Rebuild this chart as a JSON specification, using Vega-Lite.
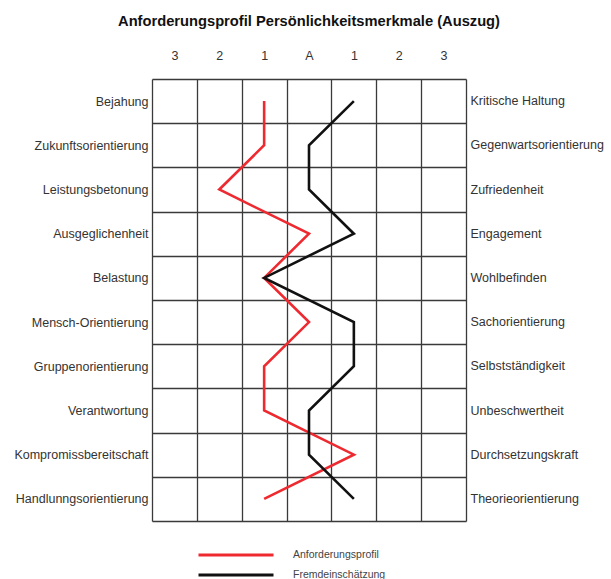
{
  "$schema": "https://vega.github.io/schema/vega-lite/v6.json",
  "width": 314,
  "height": 442,
  "autosize": "none",
  "padding": {"left": 152, "top": 79, "right": 145, "bottom": 58},
  "background": "white",
  "title": {
    "text": "Anforderungsprofil Persönlichkeitsmerkmale (Auszug)",
    "anchor": "middle",
    "font": "Liberation Sans",
    "fontSize": 14.7,
    "fontWeight": "bold",
    "color": "#111111",
    "offset": 20
  },
  "config": {
    "view": {"stroke": null},
    "font": "Liberation Sans",
    "axis": {"labelFont": "Liberation Sans", "labelFontSize": 12.5, "labelColor": "#333333", "title": null}
  },
  "data": {
    "values": [
      {"nr": 1, "left": "Bejahung", "right": "Kritische Haltung", "series": "Anforderungsprofil", "value": -1},
      {"nr": 1, "left": "Bejahung", "right": "Kritische Haltung", "series": "Fremdeinschätzung", "value": 1},
      {"nr": 2, "left": "Zukunftsorientierung", "right": "Gegenwartsorientierung", "series": "Anforderungsprofil", "value": -1},
      {"nr": 2, "left": "Zukunftsorientierung", "right": "Gegenwartsorientierung", "series": "Fremdeinschätzung", "value": 0},
      {"nr": 3, "left": "Leistungsbetonung", "right": "Zufriedenheit", "series": "Anforderungsprofil", "value": -2},
      {"nr": 3, "left": "Leistungsbetonung", "right": "Zufriedenheit", "series": "Fremdeinschätzung", "value": 0},
      {"nr": 4, "left": "Ausgeglichenheit", "right": "Engagement", "series": "Anforderungsprofil", "value": 0},
      {"nr": 4, "left": "Ausgeglichenheit", "right": "Engagement", "series": "Fremdeinschätzung", "value": 1},
      {"nr": 5, "left": "Belastung", "right": "Wohlbefinden", "series": "Anforderungsprofil", "value": -1},
      {"nr": 5, "left": "Belastung", "right": "Wohlbefinden", "series": "Fremdeinschätzung", "value": -1},
      {"nr": 6, "left": "Mensch-Orientierung", "right": "Sachorientierung", "series": "Anforderungsprofil", "value": 0},
      {"nr": 6, "left": "Mensch-Orientierung", "right": "Sachorientierung", "series": "Fremdeinschätzung", "value": 1},
      {"nr": 7, "left": "Gruppenorientierung", "right": "Selbstständigkeit", "series": "Anforderungsprofil", "value": -1},
      {"nr": 7, "left": "Gruppenorientierung", "right": "Selbstständigkeit", "series": "Fremdeinschätzung", "value": 1},
      {"nr": 8, "left": "Verantwortung", "right": "Unbeschwertheit", "series": "Anforderungsprofil", "value": -1},
      {"nr": 8, "left": "Verantwortung", "right": "Unbeschwertheit", "series": "Fremdeinschätzung", "value": 0},
      {"nr": 9, "left": "Kompromissbereitschaft", "right": "Durchsetzungskraft", "series": "Anforderungsprofil", "value": 1},
      {"nr": 9, "left": "Kompromissbereitschaft", "right": "Durchsetzungskraft", "series": "Fremdeinschätzung", "value": 0},
      {"nr": 10, "left": "Handlunngsorientierung", "right": "Theorieorientierung", "series": "Anforderungsprofil", "value": -1},
      {"nr": 10, "left": "Handlunngsorientierung", "right": "Theorieorientierung", "series": "Fremdeinschätzung", "value": 1}
    ]
  },
  "layer": [
    {
      "mark": {"type": "line", "strokeWidth": 2.6, "strokeJoin": "miter"},
      "encoding": {
        "x": {
          "field": "value",
          "type": "quantitative",
          "scale": {"domain": [-3.5, 3.5], "nice": false, "zero": false},
          "axis": {
            "orient": "top",
            "values": [-3, -2, -1, 0, 1, 2, 3],
            "labelExpr": "datum.value == 0 ? 'A' : format(abs(datum.value), 'd')",
            "grid": false,
            "ticks": false,
            "domain": false,
            "labelPadding": 17,
            "labelFontSize": 12.5
          }
        },
        "y": {
          "field": "left",
          "type": "nominal",
          "sort": {"field": "nr", "op": "min"},
          "scale": {"type": "band", "paddingInner": 0, "paddingOuter": 0},
          "axis": {
            "orient": "left",
            "grid": true,
            "tickBand": "extent",
            "gridColor": "#3a3a3a",
            "gridWidth": 1.3,
            "gridOpacity": 1,
            "ticks": false,
            "domain": false,
            "labelPadding": 4
          }
        },
        "color": {
          "field": "series",
          "type": "nominal",
          "scale": {"domain": ["Anforderungsprofil", "Fremdeinschätzung"], "range": ["#ee2a30", "#111111"]},
          "legend": {
            "orient": "none",
            "legendX": 45,
            "legendY": 467,
            "title": null,
            "symbolType": "stroke",
            "symbolSize": 5625,
            "symbolStrokeWidth": 2.8,
            "clipHeight": 18,
            "rowPadding": 2,
            "labelOffset": 18,
            "labelFontSize": 10.5,
            "labelColor": "#444444",
            "labelFont": "Liberation Sans"
          }
        },
        "order": {"field": "nr", "type": "quantitative"}
      }
    },
    {
      "mark": {"type": "point", "opacity": 0},
      "encoding": {
        "x": {
          "field": "value",
          "type": "quantitative",
          "axis": {
            "orient": "bottom",
            "values": [-3.5, -2.5, -1.5, -0.5, 0.5, 1.5, 2.5, 3.5],
            "grid": true,
            "gridColor": "#3a3a3a",
            "gridWidth": 1.3,
            "gridOpacity": 1,
            "labels": false,
            "ticks": false,
            "domain": false
          }
        },
        "y": {
          "field": "right",
          "type": "nominal",
          "sort": {"field": "nr", "op": "min"},
          "scale": {"type": "band", "paddingInner": 0, "paddingOuter": 0},
          "axis": {
            "orient": "right",
            "grid": false,
            "ticks": false,
            "domain": false,
            "labelPadding": 4,
            "labelAlign": "left"
          }
        }
      }
    }
  ],
  "resolve": {"scale": {"y": "independent"}, "axis": {"x": "independent"}}
}
